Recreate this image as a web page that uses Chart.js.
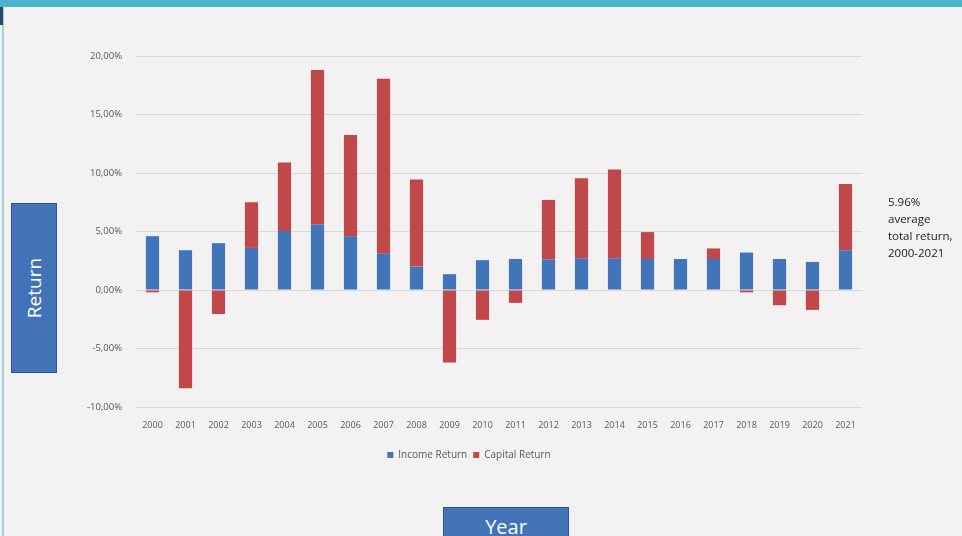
<!DOCTYPE html>
<html>
<head>
<meta charset="utf-8">
<script src="https://cdn.jsdelivr.net/npm/chart.js@4/dist/chart.umd.min.js"></script>
<style>
    html, body { margin: 0; padding: 0; }
    body { width: 962px; height: 536px; overflow: hidden; background: #f3f1f2; position: relative; font-family: 'Open Sans', sans-serif; }
    #topBar { position: absolute; left: 0; top: 0; width: 962px; height: 7px; background: #4cb3cc; }
    #leftEdge { position: absolute; left: 2px; top: 7px; width: 2px; height: 529px; background: #9fd0e0; }
    #corner { position: absolute; left: 0; top: 7px; width: 3px; height: 18px; background: #2b4a6a; }
    #chartBox { position: absolute; left: 0; top: 0; width: 962px; height: 536px; }
    .axisBox { position: absolute; background: #4273b9; border: 1px solid #2e5590; color: #fff; box-sizing: border-box; }
    #returnBox { left: 11px; top: 203px; width: 46px; height: 170px; }
    #returnBox span { position: absolute; left: 50%; top: 50%; transform: translate(-50%, -50%) rotate(-90deg); font-size: 19px; white-space: nowrap; }
    #yearBox { left: 443px; top: 507px; width: 126px; height: 40px; text-align: center; font-size: 20px; line-height: 38px; }
    #note { position: absolute; left: 888px; top: 193px; font-size: 11.5px; line-height: 17px; color: #222; white-space: nowrap; }
</style>
</head>
<body>
<div id="topBar"></div>
<div id="leftEdge"></div>
<div id="corner"></div>
<div id="chartBox"><canvas id="ReturnChart" width="962" height="536"></canvas></div>
<div class="axisBox" id="returnBox"><span>Return</span></div>
<div class="axisBox" id="yearBox">Year</div>
<div id="note">5.96%<br>average<br>total return,<br>2000-2021</div>
<script>
// yearly returns, in percent
let years = ['2000', '2001', '2002', '2003', '2004', '2005', '2006', '2007', '2008', '2009', '2010',
    '2011', '2012', '2013', '2014', '2015', '2016', '2017', '2018', '2019', '2020', '2021'];

let incomeReturn = [4.6, 3.4, 4.0, 3.6, 5.05, 5.6, 4.6, 3.1, 2.0, 1.35, 2.55,
    2.65, 2.6, 2.7, 2.7, 2.65, 2.65, 2.65, 3.2, 2.65, 2.4, 3.4];

let capitalReturn = [-0.2, -8.4, -2.05, 3.9, 5.85, 13.2, 8.65, 14.95, 7.45, -6.2, -2.55,
    -1.1, 5.1, 6.85, 7.6, 2.3, 0, 0.9, -0.2, -1.3, -1.7, 5.65];

let yTicks = [-10, -5, 0, 5, 10, 15, 20];

function FormatPercent(value) {
    return value.toFixed(2).replace('.', ',') + '%';
}

let returnChartData = {
    labels: years,
    datasets: [{
        label: 'Income Return',
        data: incomeReturn,
        backgroundColor: '#4274b9',
    }, {
        label: 'Capital Return',
        data: capitalReturn,
        backgroundColor: '#c0474a',
    }]
};

window.returnChart = new Chart(document.getElementById('ReturnChart').getContext('2d'), {
    type: 'bar',
    data: returnChartData,
    options: {
        responsive: false,
        animation: false,
        layout: {
            padding: { top: 56, left: 76, right: 100, bottom: 66 }
        },
        datasets: {
            bar: { categoryPercentage: 1, barPercentage: 0.4 }
        },
        plugins: {
            tooltip: { enabled: false },
            legend: {
                position: 'bottom',
                labels: {
                    boxWidth: 6,
                    boxHeight: 6,
                    padding: 6,
                    color: '#595959',
                    font: { family: 'Open Sans', size: 10 }
                }
            }
        },
        scales: {
            x: {
                stacked: true,
                grid: { display: false },
                border: { display: false },
                ticks: {
                    color: '#595959',
                    padding: 5,
                    maxRotation: 0,
                    autoSkip: false,
                    font: { family: 'Open Sans', size: 9 }
                },
                afterFit: function (scale) { scale.height = 37; }
            },
            y: {
                stacked: true,
                min: -10,
                max: 20,
                afterBuildTicks: function (scale) {
                    scale.ticks = yTicks.map(function (v) { return { value: v }; });
                },
                grid: { color: '#d9d9d9', lineWidth: 1, drawTicks: false },
                border: { display: false },
                ticks: {
                    color: '#595959',
                    padding: 14,
                    font: { family: 'Open Sans', size: 9.5 },
                    callback: function (value) { return FormatPercent(value); }
                },
                afterFit: function (scale) { scale.width = 60; }
            }
        }
    }
});
</script>
</body>
</html>
